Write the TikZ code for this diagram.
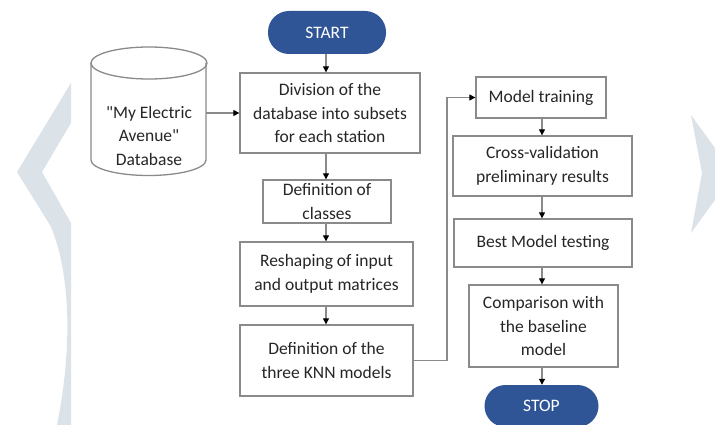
\documentclass[tikz,border=0pt]{standalone}
\usepackage{fontspec}
\setmainfont{Carlito}[Ligatures=TeXReset]
\usetikzlibrary{arrows.meta,calc}
\definecolor{wm}{HTML}{DCE3E8}
\definecolor{pill}{HTML}{2F5597}
\definecolor{edge}{HTML}{8A8A8A}
\definecolor{txt}{HTML}{262626}
\tikzset{
  every node/.style={font=\fontsize{17.5}{23.5}\selectfont, text=txt},
  stepbox/.style={draw=edge, line width=1.3pt, rectangle, align=center, inner sep=0pt},
  pillbox/.style={fill=pill, draw=none, rounded corners=21pt, text=white, inner sep=0pt},
  conn/.style={draw=edge, line width=1.1pt, -{Triangle[length=6pt,width=6pt,color=black]}},
}
\begin{document}
\begin{tikzpicture}[x=1pt,y=-1pt]
\useasboundingbox (0,0) rectangle (715,425);
\fill[white] (0,0) rectangle (715,425);
% watermarks
\fill[wm] (71,83) -- (17,172) -- (50,225) .. controls (66,260) and (76,330) .. (57,425)
  -- (71,425) -- (71,223) -- (42,172) -- (71,123) -- cycle;
\fill[wm] (691,115) -- (715,148) -- (715,200) -- (691,233) -- (702,173) -- cycle;
% cylinder
\draw[edge, line width=1.3pt] (149,63) ellipse [x radius=58pt, y radius=16pt];
\draw[edge, line width=1.3pt] (91,63) -- (91,160) arc[start angle=180, end angle=360, x radius=57.5pt, y radius=15.5pt] -- (206,63);
\node[minimum width=115pt, minimum height=128pt, inner sep=0pt] (db) at (148.5,113) {};
\node[align=center] (dbtext) at (149,135.5) {"My Electric\\Avenue"\\Database};
% column 1
\node[pillbox, minimum width=118pt, minimum height=43pt] (start) at (327,32.5) {START};
\node[stepbox, minimum width=180pt, minimum height=80pt] (b1) at (330,113) {Division of the\\database into subsets\\for each station};
\node[stepbox, minimum width=128pt, minimum height=43pt] (b2) at (327,201.5) {Definition of\\classes};
\node[stepbox, minimum width=173pt, minimum height=64pt] (b3) at (326.5,274) {Reshaping of input\\and output matrices};
\node[stepbox, minimum width=173pt, minimum height=71pt] (b4) at (326.5,360.5) {Definition of the\\three KNN models};
% column 2
\node[stepbox, minimum width=130pt, minimum height=41pt] (b5) at (541,97.5) {Model training};
\node[stepbox, minimum width=179pt, minimum height=60pt] (b6) at (542.5,166) {Cross-validation\\preliminary results};
\node[stepbox, minimum width=178pt, minimum height=48pt] (b7) at (543,243) {Best Model testing};
\node[stepbox, minimum width=149pt, minimum height=82pt] (b8) at (543.5,326) {Comparison with\\the baseline\\model};
\node[pillbox, minimum width=114pt, minimum height=42pt] (stop) at (541.5,406) {STOP};
\coordinate (c1) at (326,0);
\coordinate (c2) at (542,0);
\coordinate (bend) at (447,0);
% connectors
\draw[conn] (db.east) -- (b1.west);
\draw[conn] (start.south -| c1) -- (b1.north -| c1);
\draw[conn] (b1.south -| c1) -- (b2.north -| c1);
\draw[conn] (b2.south -| c1) -- (b3.north -| c1);
\draw[conn] (b3.south -| c1) -- (b4.north -| c1);
\draw[conn] (b4.east) -- (b4.east -| bend) |- (b5.west);
\draw[conn] (b5.south -| c2) -- (b6.north -| c2);
\draw[conn] (b6.south -| c2) -- (b7.north -| c2);
\draw[conn] (b7.south -| c2) -- (b8.north -| c2);
\draw[conn] (b8.south -| c2) -- (stop.north -| c2);
\end{tikzpicture}
\end{document}
